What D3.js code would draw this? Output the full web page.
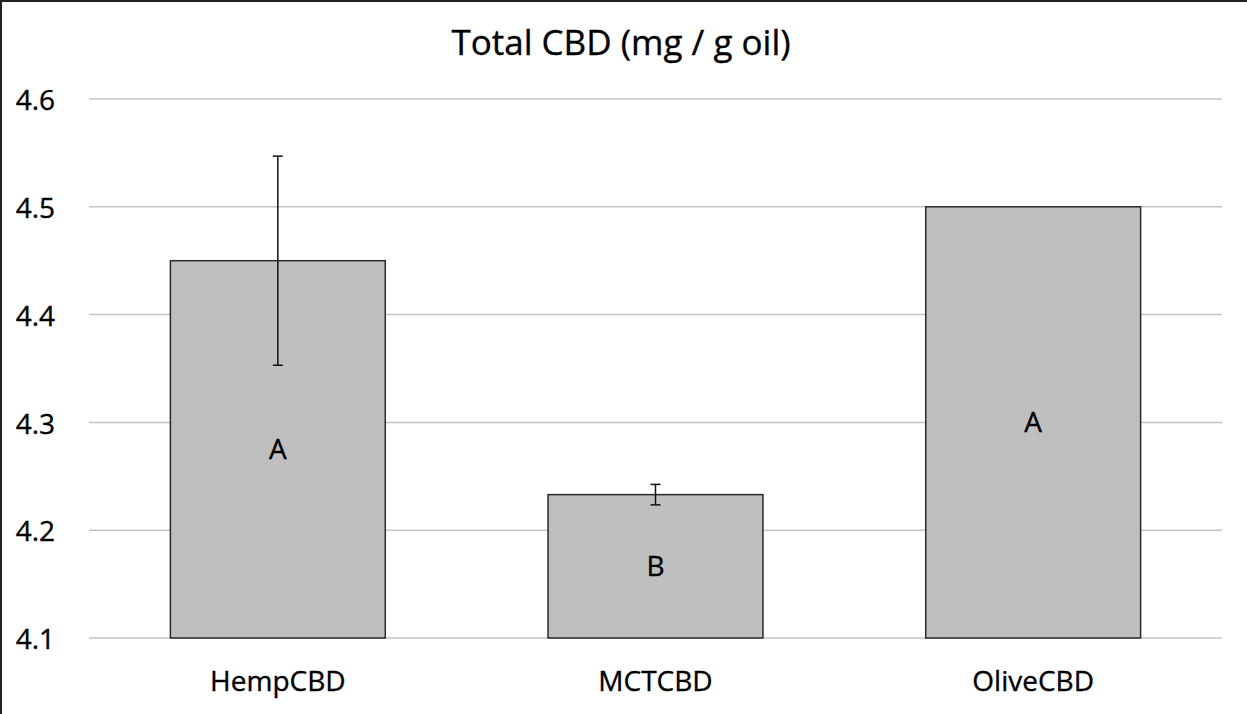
<!DOCTYPE html>
<html>
<head>
<meta charset="utf-8">
<script src="https://cdn.jsdelivr.net/npm/d3@7"></script>
<style>
  body { margin: 0; background: #fff; }
  text { font-family: "Open Sans", "Liberation Sans", sans-serif; fill: #000; stroke: #000; stroke-width: 0.35px; }
</style>
</head>
<body>
<div id="chart"></div>
<script>
// data
const categories = ["HempCBD", "MCTCBD", "OliveCBD"];
const means = [4.45, 4.233, 4.5];
const errors = [0.097, 0.0095, 0];
const groupLetters = ["A", "B", "A"];
const yTicks = [4.1, 4.2, 4.3, 4.4, 4.5, 4.6];

const width = 1247, height = 714;
const margin = { top: 99, right: 25, bottom: 76, left: 89 };
const plotW = width - margin.left - margin.right,
      plotH = height - margin.top - margin.bottom;

const svg = d3.select("#chart")
  .append("svg")
  .attr("width", width)
  .attr("height", height);

// outer frame (only top and left edges show in the reference)
svg.append("path")
  .attr("d", `M1,${height} V1 H${width}`)
  .attr("fill", "none")
  .attr("stroke", "#222")
  .attr("stroke-width", 2);

svg.append("text")
  .attr("x", 621)
  .attr("y", 55)
  .attr("text-anchor", "middle")
  .style("font-size", "35px")
  .text("Total CBD (mg / g oil)");

const g = svg.append("g")
  .attr("transform", `translate(${margin.left}, ${margin.top})`);

const x = d3.scaleBand()
  .domain(categories)
  .range([0, plotW])
  .paddingInner(0.431)
  .paddingOuter(0.2155);

const y = d3.scaleLinear()
  .domain([4.1, 4.6])
  .range([plotH, 0]);

// gridlines
g.selectAll(".grid")
  .data(yTicks)
  .enter()
  .append("line")
    .attr("x1", 0)
    .attr("x2", plotW)
    .attr("y1", d => y(d))
    .attr("y2", d => y(d))
    .attr("stroke", "#c4c4c4")
    .attr("stroke-width", 1.5);

// y axis labels
const yAxis = g.append("g")
  .call(d3.axisLeft(y).tickValues(yTicks).tickFormat(d3.format(".1f")).tickSize(0).tickPadding(34));
yAxis.select(".domain").remove();
yAxis.selectAll("text")
  .style("font-size", "28px")
  .style("font-family", null)
  .attr("dy", "0.38em")
  .attr("fill", "#000");

// x axis labels
const xAxis = g.append("g")
  .attr("transform", `translate(0, ${plotH})`)
  .call(d3.axisBottom(x).tickSize(0).tickPadding(33));
xAxis.select(".domain").remove();
xAxis.selectAll("text")
  .style("font-size", "28px")
  .style("font-family", null)
  .attr("fill", "#000");

// bars
g.selectAll(".bar")
  .data(categories)
  .enter()
  .append("rect")
    .attr("x", d => x(d))
    .attr("width", x.bandwidth())
    .attr("y", (d, i) => y(means[i]))
    .attr("height", (d, i) => plotH - y(means[i]))
    .attr("fill", "#bfbfbf")
    .attr("stroke", "#2a2a2a")
    .attr("stroke-width", 1.5);

// error bars
const cap = 5;
categories.forEach((c, i) => {
  if (!errors[i]) return;
  const cx = x(c) + x.bandwidth() / 2;
  const eb = g.append("g").attr("stroke", "#111").attr("stroke-width", 1.5);
  eb.append("line")
    .attr("x1", cx).attr("x2", cx)
    .attr("y1", y(means[i] + errors[i])).attr("y2", y(means[i] - errors[i]));
  [means[i] + errors[i], means[i] - errors[i]].forEach(v => {
    eb.append("line")
      .attr("x1", cx - cap).attr("x2", cx + cap)
      .attr("y1", y(v)).attr("y2", y(v));
  });
});

// significance letters in the middle of each bar
g.selectAll(".letter")
  .data(categories)
  .enter()
  .append("text")
    .attr("x", d => x(d) + x.bandwidth() / 2)
    .attr("y", (d, i) => (y(means[i]) + plotH) / 2)
    .attr("dy", "0.36em")
    .attr("text-anchor", "middle")
    .style("font-size", "28px")
    .text((d, i) => groupLetters[i]);
</script>
</body>
</html>
